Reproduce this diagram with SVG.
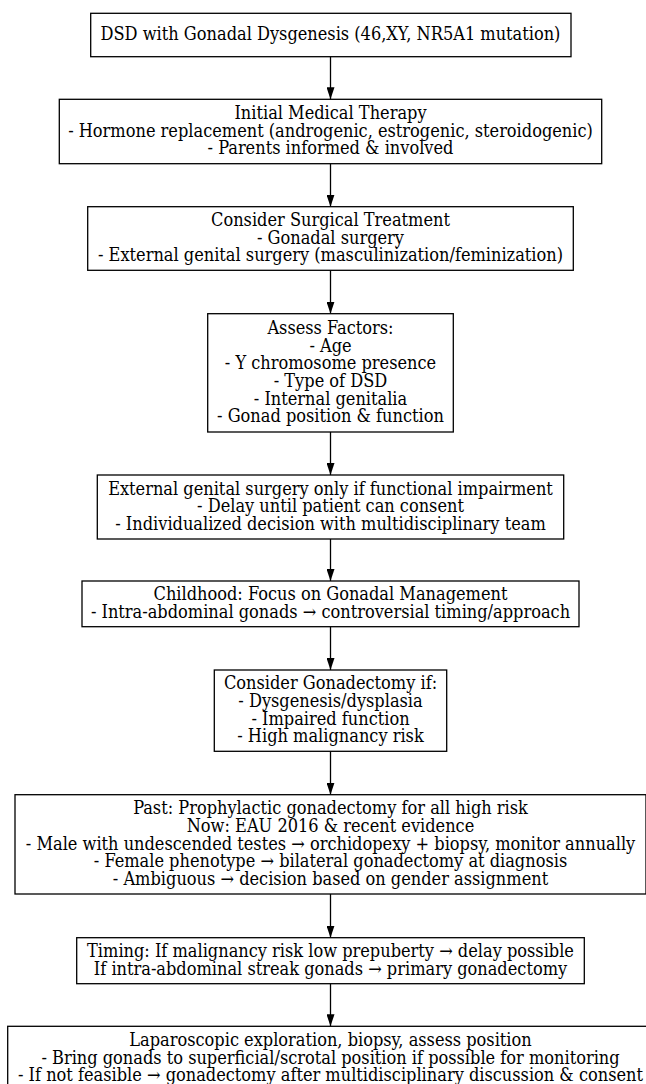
<svg xmlns="http://www.w3.org/2000/svg" width="646" height="1084" viewBox="0 0 646 1084">
<style>
.box{fill:#fff;stroke:#000;stroke-width:1.3}
.t{font-family:"DejaVu Serif Condensed","DejaVu Serif",serif;font-stretch:condensed;font-size:18px;fill:#000;text-anchor:middle}
.edge{stroke:#000;stroke-width:1.3;fill:none;marker-end:url(#ah)}
</style>
<defs>
<marker id="ah" markerWidth="12" markerHeight="8" refX="12" refY="4" orient="auto" markerUnits="userSpaceOnUse">
<path d="M0,0 L12,4 L0,8 z" fill="#000"/>
</marker>
</defs>
<rect width="646" height="1084" fill="#fff"/>
<g id="connectors">
<path class="edge" d="M330.5,56.7 V99.3"/>
<path class="edge" d="M330.5,163.7 V206.7"/>
<path class="edge" d="M330.5,270.3 V313.7"/>
<path class="edge" d="M330.5,432 V475"/>
<path class="edge" d="M330.5,539 V581"/>
<path class="edge" d="M330.5,626.7 V670"/>
<path class="edge" d="M330.5,751.3 V794.7"/>
<path class="edge" d="M330.5,894 V937.7"/>
<path class="edge" d="M330.5,983.7 V1026.3"/>
</g>
<g id="n1">
<rect class="box" x="90.7" y="13.3" width="480.3" height="43.4"/>
<text class="t" x="330.5" y="40.2">DSD with Gonadal Dysgenesis (46,XY, NR5A1 mutation)</text>
</g>
<g id="n2">
<rect class="box" x="59.3" y="99.3" width="542.4" height="64.4"/>
<text class="t" x="330.5" y="119">Initial Medical Therapy</text>
<text class="t" x="330.5" y="136.7">- Hormone replacement (androgenic, estrogenic, steroidogenic)</text>
<text class="t" x="330.5" y="154.4">- Parents informed &amp; involved</text>
</g>
<g id="n3">
<rect class="box" x="87.7" y="206.7" width="485.6" height="63.6"/>
<text class="t" x="330.5" y="226">Consider Surgical Treatment</text>
<text class="t" x="330.5" y="243.7">- Gonadal surgery</text>
<text class="t" x="330.5" y="261.4">- External genital surgery (masculinization/feminization)</text>
</g>
<g id="n4">
<rect class="box" x="207.7" y="313.7" width="245.6" height="118.3"/>
<text class="t" x="330.5" y="333.8">Assess Factors:</text>
<text class="t" x="330.5" y="351.5">- Age</text>
<text class="t" x="330.5" y="369.2">- Y chromosome presence</text>
<text class="t" x="330.5" y="386.9">- Type of DSD</text>
<text class="t" x="330.5" y="404.6">- Internal genitalia</text>
<text class="t" x="330.5" y="422.3">- Gonad position &amp; function</text>
</g>
<g id="n5">
<rect class="box" x="97.3" y="475" width="466.4" height="64"/>
<text class="t" x="330.5" y="494.5">External genital surgery only if functional impairment</text>
<text class="t" x="330.5" y="512.2">- Delay until patient can consent</text>
<text class="t" x="330.5" y="529.9">- Individualized decision with multidisciplinary team</text>
</g>
<g id="n6">
<rect class="box" x="82" y="581" width="497" height="45.7"/>
<text class="t" x="330.5" y="600.2">Childhood: Focus on Gonadal Management</text>
<text class="t" x="330.5" y="617.9">- Intra-abdominal gonads → controversial timing/approach</text>
</g>
<g id="n7">
<rect class="box" x="214.3" y="670" width="232.4" height="81.3"/>
<text class="t" x="330.5" y="689.3">Consider Gonadectomy if:</text>
<text class="t" x="330.5" y="707">- Dysgenesis/dysplasia</text>
<text class="t" x="330.5" y="724.7">- Impaired function</text>
<text class="t" x="330.5" y="742.4">- High malignancy risk</text>
</g>
<g id="n8">
<rect class="box" x="15" y="794.7" width="631" height="99.3"/>
<text class="t" x="330.5" y="814.2">Past: Prophylactic gonadectomy for all high risk</text>
<text class="t" x="330.5" y="831.9">Now: EAU 2016 &amp; recent evidence</text>
<text class="t" x="330.5" y="849.6">- Male with undescended testes → orchidopexy + biopsy, monitor annually</text>
<text class="t" x="330.5" y="867.3">- Female phenotype → bilateral gonadectomy at diagnosis</text>
<text class="t" x="330.5" y="885">- Ambiguous → decision based on gender assignment</text>
</g>
<g id="n9">
<rect class="box" x="76.7" y="937.7" width="507.6" height="46"/>
<text class="t" x="330.5" y="957">Timing: If malignancy risk low prepuberty → delay possible</text>
<text class="t" x="330.5" y="974.7">If intra-abdominal streak gonads → primary gonadectomy</text>
</g>
<g id="n10">
<rect class="box" x="7.7" y="1026.3" width="645.6" height="64"/>
<text class="t" x="330.5" y="1045.8">Laparoscopic exploration, biopsy, assess position</text>
<text class="t" x="330.5" y="1063.5">- Bring gonads to superficial/scrotal position if possible for monitoring</text>
<text class="t" x="330.5" y="1081.2">- If not feasible → gonadectomy after multidisciplinary discussion &amp; consent</text>
</g>
</svg>
